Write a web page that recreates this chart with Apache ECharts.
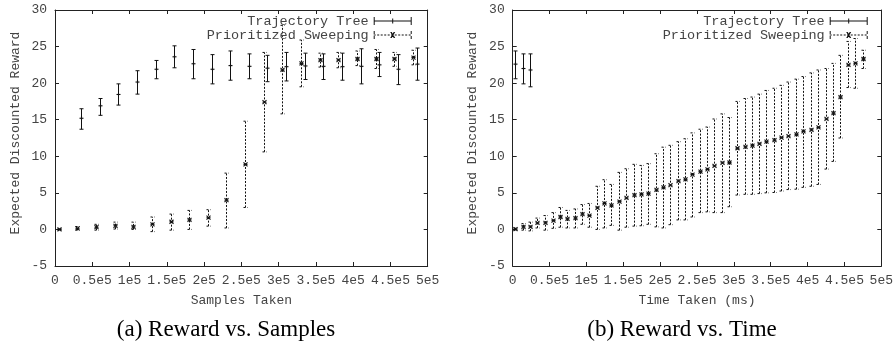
<!DOCTYPE html>
<html>
<head>
<meta charset="utf-8">
<script src="https://cdn.jsdelivr.net/npm/echarts@6/dist/echarts.min.js"></script>
<style>html,body{margin:0;padding:0;background:#fff;}#c{width:896px;height:343px;}</style>
</head>
<body>
<div id="c"></div>
<script>
// ---- data ----
const xTickLabels = ['0','0.5e5','1e5','1.5e5','2e5','2.5e5','3e5','3.5e5','4e5','4.5e5','5e5'];
const seriesNames = ['Trajectory Tree', 'Prioritized Sweeping'];
const captions = ['(a) Reward vs. Samples', '(b) Reward vs. Time'];
const xAxisNames = ['Samples Taken', 'Time Taken (ms)'];
const yAxisName = 'Expected Discounted Reward';

// (a) Reward vs. Samples
const samplesTreeX    = [35000, 60000, 85000, 110000, 135000, 160000, 185000, 210000, 235000, 260000, 285000, 310000, 335000, 360000, 385000, 410000, 435000, 460000, 485000];
const samplesTreeMean = [15.2, 16.9, 18.45, 20.15, 21.9, 23.6, 22.65, 21.9, 22.4, 22.3, 22.05, 22.25, 22.35, 22.3, 22.25, 22.3, 22.5, 21.9, 22.6];
const samplesTreeLo   = [13.7, 15.6, 17.0, 18.5, 20.6, 22.1, 20.6, 19.9, 20.4, 20.6, 20.2, 20.3, 20.5, 20.5, 20.4, 19.9, 20.9, 19.8, 20.4];
const samplesTreeHi   = [16.5, 17.9, 19.9, 21.7, 23.1, 25.1, 24.6, 23.9, 24.4, 24.0, 23.8, 24.2, 24.1, 24.0, 24.1, 24.7, 24.2, 23.9, 24.8];

const samplesPSX    = [5000, 30000, 55000, 80000, 105000, 130000, 155000, 180000, 205000, 230000, 255000, 280000, 305000, 330000, 355000, 380000, 405000, 430000, 455000, 480000];
const samplesPSMean = [0.0, 0.15, 0.3, 0.5, 0.35, 0.7, 1.05, 1.3, 1.6, 4.0, 8.9, 17.4, 21.8, 22.7, 23.15, 23.15, 23.3, 23.3, 23.3, 23.5];
const samplesPSLo   = [-0.1, -0.1, -0.1, 0.05, 0.0, -0.3, -0.1, 0.0, 0.45, 0.2, 3.0, 10.6, 15.8, 19.5, 22.2, 22.1, 22.4, 22.0, 22.3, 22.5];
const samplesPSHi   = [0.1, 0.4, 0.7, 1.0, 1.0, 1.7, 2.1, 2.6, 2.7, 7.7, 14.8, 24.2, 27.9, 25.9, 24.1, 24.2, 24.4, 24.6, 24.2, 24.5];

// (b) Reward vs. Time
const timeTreeX    = [3600, 13900, 23800];
const timeTreeMean = [22.6, 22.0, 21.8];
const timeTreeLo   = [20.6, 19.9, 19.5];
const timeTreeHi   = [24.4, 24.0, 24.0];

const timePSX    = [3000, 13500, 24000, 33500, 44000, 54000, 64000, 74000, 84000, 94000,
                    104000, 114000, 124000, 134000, 144000, 154000, 164000, 174000, 184000, 194000,
                    204000, 214000, 224000, 233500, 243500, 253500, 263500, 273500, 283500, 293500,
                    304500, 314500, 324500, 334000, 344000, 354000, 364500, 374000, 384000, 394000,
                    404500, 414000, 424500, 434500, 444500, 454500, 465000, 475000];
const timePSMean = [0.05, 0.35, 0.35, 0.9, 0.9, 1.2, 1.7, 1.45, 1.55, 2.1,
                    1.9, 2.95, 3.55, 3.3, 3.8, 4.3, 4.7, 4.8, 4.9, 5.4,
                    5.75, 6.05, 6.6, 6.85, 7.5, 7.9, 8.2, 8.7, 9.1, 9.15,
                    11.1, 11.3, 11.45, 11.7, 12.0, 12.2, 12.55, 12.75, 13.0, 13.4,
                    13.6, 13.95, 15.1, 15.9, 18.1, 22.5, 22.7, 23.3];
const timePSLo   = [-0.1, -0.1, -0.2, 0.2, -0.1, 0.15, 0.3, 0.2, 0.2, 0.7,
                    0.3, 0.0, 0.2, 0.55, -0.1, 0.3, 0.45, 0.5, 0.7, 0.35,
                    0.2, 0.65, 1.3, 1.3, 1.7, 2.3, 2.4, 2.3, 2.3, 3.1,
                    4.7, 4.8, 4.8, 4.9, 5.0, 5.05, 5.25, 5.45, 5.5, 5.75,
                    5.9, 6.15, 8.25, 9.3, 12.5, 19.4, 19.3, 22.0];
const timePSHi   = [0.2, 0.8, 1.0, 1.55, 1.9, 2.3, 3.0, 2.6, 2.8, 3.4,
                    3.55, 5.9, 6.8, 6.15, 7.8, 8.3, 8.9, 8.75, 9.0, 10.35,
                    11.25, 11.5, 12.0, 12.4, 13.2, 13.7, 14.0, 15.1, 15.8, 15.3,
                    17.5, 17.9, 18.1, 18.5, 19.0, 19.3, 19.7, 20.15, 20.55, 20.9,
                    21.4, 21.8, 22.0, 22.7, 23.8, 25.7, 26.1, 24.5];

// ---- build ----
function zip(x, m, lo, hi) { return x.map((v, i) => [v, m[i], lo[i], hi[i]]); }

const INK = '#111';
function makeRender(dashed, marker) {
  return function (params, api) {
    const x = api.value(0);
    const pm = api.coord([x, api.value(1)]);
    const pl = api.coord([x, api.value(2)]);
    const ph = api.coord([x, api.value(3)]);
    const cx = Math.round(pm[0]) + 0.5;
    const st = { stroke: INK, lineWidth: 1, fill: null, lineDash: dashed ? [2, 1.5] : null };
    const solid = { stroke: INK, lineWidth: 1.1, fill: null };
    const cap = 2;
    const ch = [
      { type: 'line', shape: { x1: cx, y1: pl[1], x2: cx, y2: ph[1] }, style: st },
      { type: 'line', shape: { x1: cx - cap, y1: pl[1], x2: cx + cap, y2: pl[1] }, style: st },
      { type: 'line', shape: { x1: cx - cap, y1: ph[1], x2: cx + cap, y2: ph[1] }, style: st }
    ];
    const my = pm[1];
    if (marker === 'plus') {
      ch.push({ type: 'line', shape: { x1: cx - 2, y1: my, x2: cx + 2, y2: my }, style: solid });
      ch.push({ type: 'line', shape: { x1: cx, y1: my - 2, x2: cx, y2: my + 2 }, style: solid });
    } else {
      const s = 2;
      ch.push({ type: 'line', shape: { x1: cx - s, y1: my - s, x2: cx + s, y2: my + s }, style: solid });
      ch.push({ type: 'line', shape: { x1: cx - s, y1: my + s, x2: cx + s, y2: my - s }, style: solid });
      ch.push({ type: 'line', shape: { x1: cx - s, y1: my, x2: cx + s, y2: my }, style: solid });
    }
    return { type: 'group', children: ch };
  };
}

const treeIcon = 'path://M0 35L380 35L380 45L0 45Z M0 0L10 0L10 80L0 80Z M370 0L380 0L380 80L370 80Z M185 15L195 15L195 65L185 65Z';
let psPath = '';
for (let x = 0; x < 380; x += 35) { const e = Math.min(x + 20, 380); psPath += 'M' + x + ' 35L' + e + ' 35L' + e + ' 45L' + x + ' 45Z '; }
psPath += 'M0 0L10 0L10 30L0 30Z M0 50L10 50L10 80L0 80Z M370 0L380 0L380 30L370 30Z M370 50L380 50L380 80L370 80Z ';
psPath += 'M165 10L180 10L215 70L200 70Z M200 10L215 10L180 70L165 70Z';
const psIcon = 'path://' + psPath;

const mono = 'Liberation Mono';
const tickColor = '#444';
const grids = [
  { left: 55, top: 10, width: 372.7, height: 256 },
  { left: 512.7, top: 10, width: 371, height: 256 }
];

function xAx(g, pos, name) {
  return {
    type: 'value', gridIndex: g, position: pos, min: 0, max: 500000, interval: 50000,
    axisLine: { show: true, onZero: false, lineStyle: { color: '#222', width: 1 } },
    axisTick: { show: true, inside: true, length: 4, lineStyle: { color: '#222' } },
    axisLabel: pos === 'bottom' ? {
      show: true, margin: 8, fontFamily: mono, fontSize: 13, color: tickColor,
      showMinLabel: true, showMaxLabel: true,
      formatter: v => xTickLabels[Math.round(v / 50000)]
    } : { show: false },
    splitLine: { show: false },
    name: pos === 'bottom' ? name : '', nameLocation: 'middle', nameGap: 28,
    nameTextStyle: { fontFamily: mono, fontSize: 13, color: tickColor }
  };
}
function yAx(g, pos, gap) {
  return {
    type: 'value', gridIndex: g, position: pos, min: -5, max: 30, interval: 5,
    axisLine: { show: true, onZero: false, lineStyle: { color: '#222', width: 1 } },
    axisTick: { show: true, inside: true, length: 4, lineStyle: { color: '#222' } },
    axisLabel: pos === 'left' ? { show: true, margin: 8, fontFamily: mono, fontSize: 13, color: tickColor,
      showMinLabel: true, showMaxLabel: true } : { show: false },
    splitLine: { show: false },
    name: pos === 'left' ? yAxisName : '', nameLocation: 'middle', nameGap: gap,
    nameTextStyle: { fontFamily: mono, fontSize: 13, color: tickColor, padding: [0, 0, 0, 10] }
  };
}

function legendFor(right) {
  return {
    show: true, orient: 'vertical', align: 'right', right: right, top: 14,
    itemWidth: 38, itemHeight: 8, itemGap: 0, padding: 0, selectedMode: false,
    textStyle: { fontFamily: mono, fontSize: 13.5, color: tickColor, lineHeight: 13 },
    data: [
      { name: seriesNames[0], icon: treeIcon, itemStyle: { color: INK } },
      { name: seriesNames[1], icon: psIcon, itemStyle: { color: INK } }
    ]
  };
}

function errSeries(name, xi, yi, data, dashed, marker) {
  return {
    type: 'custom', name: name, xAxisIndex: xi, yAxisIndex: yi,
    itemStyle: { color: INK },
    encode: { x: 0, y: [1, 2, 3] },
    renderItem: makeRender(dashed, marker),
    data: data, silent: true, animation: false
  };
}

const option = {
  backgroundColor: '#fff',
  animation: false,
  grid: grids,
  xAxis: [xAx(0, 'bottom', xAxisNames[0]), xAx(0, 'top'), xAx(1, 'bottom', xAxisNames[1]), xAx(1, 'top')],
  yAxis: [yAx(0, 'left', 32.5), yAx(0, 'right'), yAx(1, 'left', 33.5), yAx(1, 'right')],
  legend: [legendFor(484.3), legendFor(28.3)],
  series: [
    errSeries(seriesNames[0], 0, 0, zip(samplesTreeX, samplesTreeMean, samplesTreeLo, samplesTreeHi), false, 'plus'),
    errSeries(seriesNames[1], 0, 0, zip(samplesPSX, samplesPSMean, samplesPSLo, samplesPSHi), true, 'x'),
    errSeries(seriesNames[0], 2, 2, zip(timeTreeX, timeTreeMean, timeTreeLo, timeTreeHi), false, 'plus'),
    errSeries(seriesNames[1], 2, 2, zip(timePSX, timePSMean, timePSLo, timePSHi), true, 'x')
  ],
  graphic: [
    { type: 'text', x: 226, y: 330, style: { text: captions[0], font: '23px "Liberation Serif"', fill: '#000', align: 'center', verticalAlign: 'middle' } },
    { type: 'text', x: 682, y: 330, style: { text: captions[1], font: '23px "Liberation Serif"', fill: '#000', align: 'center', verticalAlign: 'middle' } }
  ]
};

const chart = echarts.init(document.getElementById('c'), null, { renderer: 'canvas' });
chart.setOption(option);
</script>
</body>
</html>
